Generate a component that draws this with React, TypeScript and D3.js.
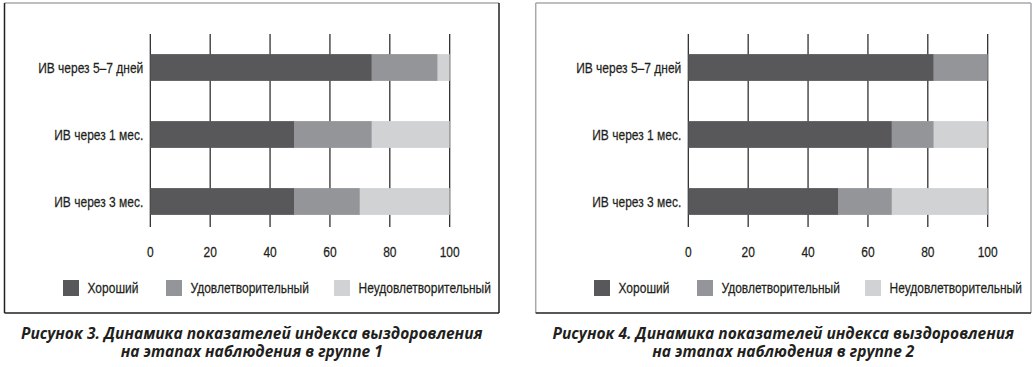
import React, { useEffect, useRef } from "react";
import * as d3 from "d3";

const categories = ["ИВ через 5–7 дней", "ИВ через 1 мес.", "ИВ через 3 мес."];
const seriesNames = ["Хороший", "Удовлетворительный", "Неудовлетворительный"];
const colors = ["#58585a", "#939598", "#d1d2d4"];
const xTicks = [0, 20, 40, 60, 80, 100];

// group 1
const good1 = [74, 48, 48];
const fair1 = [22, 26, 22];
const poor1 = [4, 26, 30];

// group 2
const good2 = [82, 68, 50];
const fair2 = [18, 14, 18];
const poor2 = [0, 18, 32];

const captions1 = [
  "Рисунок 3. Динамика показателей индекса выздоровления",
  "на этапах наблюдения в группе 1",
];
const captions2 = [
  "Рисунок 4. Динамика показателей индекса выздоровления",
  "на этапах наблюдения в группе 2",
];

const labelFont = "'Liberation Sans', Arial, sans-serif";
const captionFont = "'Open Sans', 'Noto Sans', sans-serif";
const narrow = 0.8; // condensed look via horizontal squeeze

export default function App() {
  const ref = useRef<SVGSVGElement>(null);

  useEffect(() => {
    document.body.style.margin = "0";
    const svg = d3.select(ref.current);
    svg.selectAll("*").remove();

    const panels = [
      {
        box: [4.5, 3, 499, 313],
        axisX: [150.3, 449.7],
        legendX: 63,
        borders: { top: "#a7a9ac", left: "#231f20", right: "#231f20", bottom: "#231f20" },
        values: [good1, fair1, poor1],
        captions: captions1,
      },
      {
        box: [535.7, 3, 1031, 313],
        axisX: [688.3, 987.7],
        legendX: 594,
        borders: { top: "#a7a9ac", left: "#a7a9ac", right: "#a7a9ac", bottom: "#231f20" },
        values: [good2, fair2, poor2],
        captions: captions2,
      },
    ];

    const squeezed = (sel: any, xf: (d: any, i: number) => number, yf: (d: any, i: number) => number) =>
      sel
        .attr("transform", (d: any, i: number) => `translate(${xf(d, i)},${yf(d, i)}) scale(${narrow},1)`)
        .attr("font-family", labelFont)
        .attr("font-size", 15)
        .attr("fill", "#231f20")
        .attr("stroke", "#231f20")
        .attr("stroke-width", 0.25);

    panels.forEach((p) => {
      const g = svg.append("g");
      const [x0, y0, x1, y1] = p.box;

      // frame
      const sides: [number, number, number, number, string][] = [
        [x0, y0, x1, y0, p.borders.top],
        [x0, y0, x0, y1, p.borders.left],
        [x1, y0, x1, y1, p.borders.right],
        [x0, y1, x1, y1, p.borders.bottom],
      ];
      g.selectAll("line.frame")
        .data(sides)
        .join("line")
        .attr("class", "frame")
        .attr("x1", (d) => d[0])
        .attr("y1", (d) => d[1])
        .attr("x2", (d) => d[2])
        .attr("y2", (d) => d[3])
        .attr("stroke", (d) => d[4])
        .attr("stroke-width", 1.5);

      const x = d3.scaleLinear([0, 100], p.axisX);
      const y = d3
        .scaleBand(categories, [34, 235])
        .paddingInner(0.6)
        .paddingOuter(0.3);

      // grid lines
      g.selectAll("line.grid")
        .data(xTicks)
        .join("line")
        .attr("class", "grid")
        .attr("x1", (d) => x(d))
        .attr("x2", (d) => x(d))
        .attr("y1", 34)
        .attr("y2", 227)
        .attr("stroke", "#231f20")
        .attr("stroke-width", 1.2);

      // tick labels
      squeezed(
        g.selectAll("text.tick").data(xTicks).join("text").attr("class", "tick"),
        (d) => x(d),
        () => 252
      )
        .attr("dy", "0.35em")
        .attr("text-anchor", "middle")
        .text((d: number) => d);

      // stacked bars
      const rows = categories.map((c, i) => {
        const r: any = { cat: c };
        seriesNames.forEach((s, k) => (r[s] = p.values[k][i]));
        return r;
      });
      const stack = d3.stack<any>().keys(seriesNames)(rows);
      g.selectAll("g.series")
        .data(stack)
        .join("g")
        .attr("class", "series")
        .attr("fill", (_, i) => colors[i])
        .selectAll("rect")
        .data((d) => d)
        .join("rect")
        .attr("x", (d) => x(d[0]))
        .attr("width", (d) => x(d[1]) - x(d[0]))
        .attr("y", (d) => y(d.data.cat)!)
        .attr("height", y.bandwidth());

      // category labels
      squeezed(
        g.selectAll("text.cat").data(categories).join("text").attr("class", "cat"),
        () => x(0) - 7,
        (d) => y(d)! + y.bandwidth() / 2
      )
        .attr("dy", "0.35em")
        .attr("text-anchor", "end")
        .text((d: string) => d);

      // legend
      const legendOffsets = [0, 103, 271];
      g.selectAll("rect.legend")
        .data(seriesNames)
        .join("rect")
        .attr("class", "legend")
        .attr("x", (_, i) => p.legendX + legendOffsets[i])
        .attr("y", 280)
        .attr("width", 16)
        .attr("height", 16)
        .attr("fill", (_, i) => colors[i]);
      squeezed(
        g.selectAll("text.legend").data(seriesNames).join("text").attr("class", "legend"),
        (_, i) => p.legendX + legendOffsets[i] + 24.5,
        () => 288
      )
        .attr("dy", "0.35em")
        .text((d: string) => d);

      // caption
      g.selectAll("text.caption")
        .data(p.captions)
        .join("text")
        .attr("class", "caption")
        .attr("x", (x0 + x1) / 2)
        .attr("y", (_, i) => 339 + i * 18)
        .attr("text-anchor", "middle")
        .attr("font-family", captionFont)
        .attr("font-weight", "bold")
        .attr("font-style", "italic")
        .attr("font-size", 15.5)
        .attr("fill", "#231f20")
        .text((d) => d);
    });
  }, []);

  return <svg ref={ref} width={1036} height={367} style={{ display: "block", background: "#fff" }} />;
}
